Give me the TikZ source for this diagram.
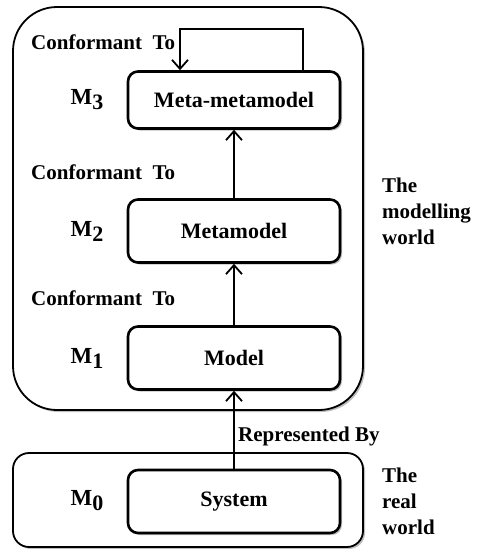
\documentclass[tikz,border=0pt]{standalone}
\usepackage{fontspec}
\setmainfont{Liberation Serif}
\usetikzlibrary{arrows.meta,shadows}

\tikzset{
  shade/.style={drop shadow={shadow xshift=2pt,shadow yshift=-2pt,fill=black,opacity=.25}},
  levelbox/.style={draw,line width=2.6pt,rounded corners=10pt,fill=white,shade,
    minimum width=212pt,minimum height=60pt,inner sep=0pt,
    font=\fontsize{22}{24}\selectfont\bfseries},
  worldbox/.style={draw,line width=1.8pt,fill=white,shade},
  arr/.style={line width=1.8pt,-{Straight Barb[length=9pt,width=16pt,line width=1.8pt]}},
  lbl/.style={anchor=west,inner sep=0pt,font=\fontsize{21}{24}\selectfont\bfseries},
  side/.style={anchor=north west,inner sep=0pt,align=left,
    font=\fontsize{21}{26}\selectfont\bfseries},
  mlabel/.style={inner sep=0pt,font=\fontsize{23}{24}\selectfont\bfseries}
}
\newcommand{\mlev}[1]{M\raisebox{-5pt}{\fontsize{22}{24}\selectfont #1}}

\begin{document}
\begin{tikzpicture}[x=1pt,y=-1pt]
  \useasboundingbox (0,0) rectangle (477,549);

  % the two worlds
  \draw[worldbox,rounded corners=44pt] (13,7) rectangle (363,410);
  \draw[worldbox,rounded corners=16pt] (13,453) rectangle (363,547);

  % the four levels
  \node[levelbox,minimum height=57pt] (mmm) at (234,100) {Meta-metamodel};
  \node[levelbox,minimum height=63pt] (mm) at (234,231) {Metamodel};
  \node[levelbox,minimum height=63pt] (model) at (234,358) {Model};
  \node[levelbox,minimum height=63pt] (sys) at (234,501.5) {System};

  % level names
  \node[mlabel] (m3) at (87,100) {\mlev{3}};
  \node[mlabel] (m2) at (87,231) {\mlev{2}};
  \node[mlabel] (m1) at (87,358) {\mlev{1}};
  \node[mlabel] (m0) at (87,501) {\mlev{0}};

  % relations between levels
  \coordinate (looptop) at (240,29);
  \draw[arr] ([xshift=69pt]mmm.north) |- (looptop) -| ([xshift=-54pt]mmm.north);
  \draw[arr] (mm.north) -- (mmm.south);
  \draw[arr] (model.north) -- (mm.south);
  \draw[arr] (sys.north) -- (model.south);

  % relation labels
  \node[lbl] (c3) at (31,42) {Conformant~~To};
  \node[lbl] (c2) at (31,172) {Conformant~~To};
  \node[lbl] (c1) at (31,298) {Conformant~~To};
  \node[lbl] (rep) at (238,436) {Represented By};

  % world names
  \node[side] (mw) at (382,178) {The\\modelling\\world};
  \node[side] (rw) at (382,468) {The\\real\\world};
\end{tikzpicture}
\end{document}
